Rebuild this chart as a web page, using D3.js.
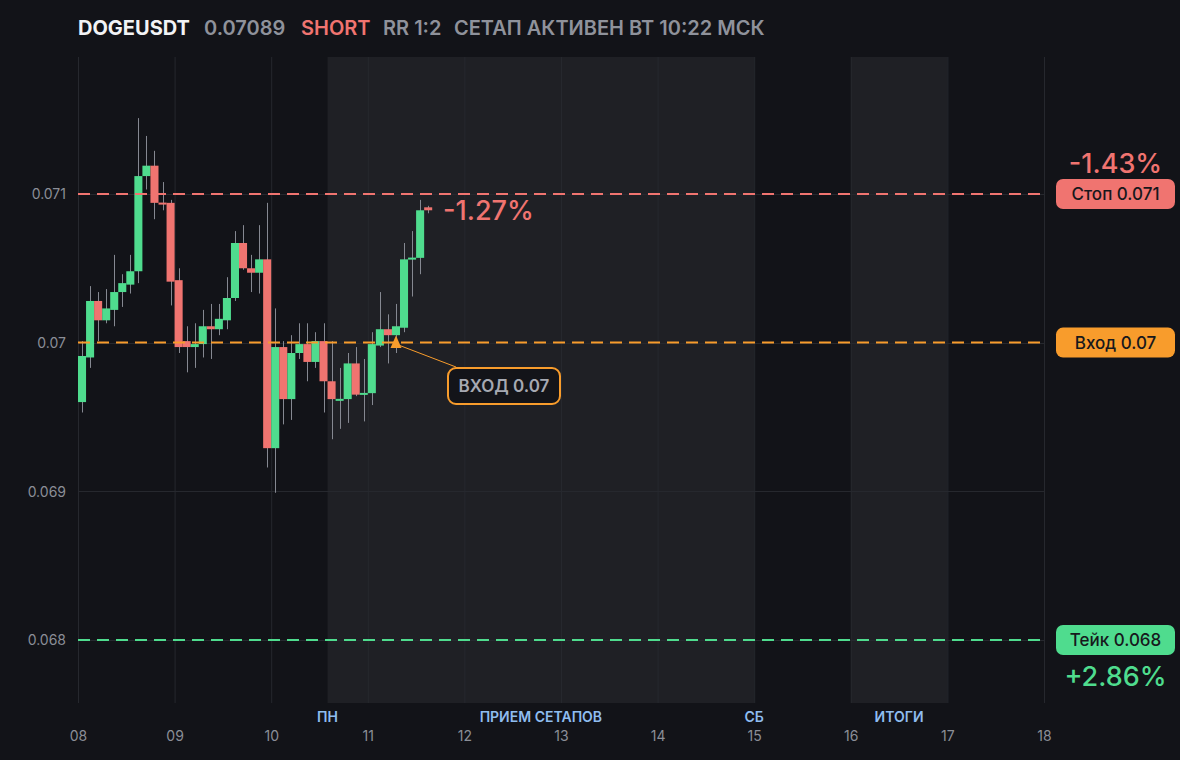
<!DOCTYPE html>
<html>
<head>
<meta charset="utf-8">
<script src="https://cdn.jsdelivr.net/npm/d3@7"></script>
<style>
  html, body { margin: 0; padding: 0; background: #121318; }
  svg { display: block; font-family: Inter, "Noto Sans", sans-serif; }
</style>
</head>
<body>
<svg id="chart" width="1180" height="760"></svg>
<script>
// ---------- DATA ----------
const symbol = "DOGEUSDT";
const lastPrice = "0.07089";
const side = "SHORT";
const rrText = "RR 1:2";
const statusText = "СЕТАП АКТИВЕН ВТ 10:22 МСК";

const firstDay = 8;          // candles start on day 08, 2-hour candles
const candleHours = 2;
const candleOpen  = [0.06960,0.06990,0.07028,0.07015,0.07022,0.07034,0.07039,0.07048,0.07112,0.07119,0.07094,0.07094,0.07042,0.07001,0.06997,0.06999,0.07011,0.07009,0.07015,0.07030,0.07067,0.07050,0.07047,0.07056,0.06929,0.06997,0.06962,0.06993,0.06999,0.06987,0.07001,0.06974,0.06961,0.06962,0.06986,0.06965,0.06966,0.06998,0.07009,0.07005,0.07010,0.07056,0.07057,0.07091];
const candleHigh  = [0.07001,0.07038,0.07034,0.07036,0.07059,0.07046,0.07059,0.07151,0.07139,0.07129,0.07108,0.07096,0.07050,0.07011,0.07013,0.07022,0.07026,0.07026,0.07044,0.07075,0.07079,0.07059,0.07079,0.07094,0.07023,0.07001,0.07005,0.07013,0.07013,0.07007,0.07013,0.07001,0.06983,0.06993,0.06997,0.06989,0.07007,0.07034,0.07019,0.07026,0.07067,0.07075,0.07096,0.07092];
const candleLow   = [0.06953,0.06983,0.07001,0.07013,0.07011,0.07024,0.07033,0.07040,0.07103,0.07083,0.07089,0.07025,0.06993,0.06980,0.06983,0.06990,0.06989,0.07005,0.07009,0.07028,0.07049,0.07034,0.07033,0.06916,0.06899,0.06945,0.06948,0.06989,0.06974,0.06983,0.06953,0.06935,0.06942,0.06946,0.06964,0.06947,0.06958,0.06997,0.06986,0.06993,0.07007,0.07031,0.07046,0.07087];
const candleClose = [0.06991,0.07028,0.07015,0.07023,0.07034,0.07040,0.07048,0.07112,0.07119,0.07094,0.07093,0.07041,0.06997,0.06997,0.06999,0.07011,0.07009,0.07016,0.07030,0.07067,0.07050,0.07047,0.07056,0.06929,0.06997,0.06962,0.06993,0.06999,0.06987,0.07001,0.06974,0.06962,0.06962,0.06986,0.06965,0.06966,0.06999,0.07009,0.07005,0.07011,0.07056,0.07057,0.07089,0.07089];

const dayTicks = [8,9,10,11,12,13,14,15,16,17,18];
const dayTickLabels = ["08","09","10","11","12","13","14","15","16","17","18"];
const priceTicks = [0.068,0.069,0.07,0.071];
const priceTickLabels = ["0.068","0.069","0.07","0.071"];

const bandStarts = [10 + 14/24, 16];
const bandEnds   = [15, 17];
const bandLabels = ["ПН","ПРИЕМ СЕТАПОВ","СБ","ИТОГИ"];
const bandLabelDays = [10 + 14/24, (10 + 14/24 + 15)/2, 15, 16.5];

const levelNames  = ["Стоп 0.071","Вход 0.07","Тейк 0.068"];
const levelPrices = [0.071, 0.07, 0.068];
const stopPct = "-1.43%";
const takePct = "+2.86%";
const currentPct = "-1.27%";
const entryCandleIndex = 39;
const entryLabel = "ВХОД 0.07";

// ---------- STYLE ----------
const C = {
  bg: "#121318", band: "#1f2025", grid: "#26282e",
  up: "#4fdc8e", down: "#f07470", wick: "#858891",
  stop: "#f07470", entry: "#f89c2c", take: "#4fdc8e",
  axis: "#8b8e97", head: "#8f929b", bandText: "#8fbdf0"
};
const levelColors = [C.stop, C.entry, C.take];

const svg = d3.select("#chart");
const plot = {left: 78, right: 1044, top: 57, bottom: 703};

const x = d3.scaleLinear().domain([8, 18]).range([plot.left, plot.right]);
const y = d3.scaleLinear().domain([0.067576, 0.071921]).range([plot.bottom, plot.top]);

svg.append("rect").attr("width",1180).attr("height",760).attr("fill",C.bg);

// bands
svg.append("g").selectAll("rect").data(bandStarts).join("rect")
  .attr("x", d => x(d)).attr("y", plot.top)
  .attr("width", (d,i) => x(bandEnds[i]) - x(d))
  .attr("height", plot.bottom - plot.top)
  .attr("fill", C.band);

// grid
const xAxis = d3.axisBottom(x).tickValues(dayTicks).tickFormat((d,i) => dayTickLabels[i]).tickSize(plot.bottom - plot.top).tickPadding(0);
const gx = svg.append("g").attr("transform", `translate(0,${plot.top})`).call(xAxis);
gx.select(".domain").remove();
gx.selectAll(".tick line").attr("stroke", C.grid).attr("stroke-width",1);
gx.selectAll(".tick text").attr("fill", C.axis).attr("font-size", 14)
  .attr("font-family","Inter").attr("y", null).attr("dy", null)
  .attr("transform", `translate(0,${741 - plot.top})`);

const yAxis = d3.axisLeft(y).tickValues(priceTicks).tickFormat((d,i) => priceTickLabels[i]).tickSize(0).tickPadding(0);
const gy = svg.append("g").attr("transform", `translate(${plot.left - 12},0)`).call(yAxis);
gy.select(".domain").remove();
gy.selectAll(".tick text").attr("fill", C.axis).attr("font-size", 14).attr("font-family","Inter").attr("dy","0.35em");

svg.append("g").selectAll("line").data(priceTicks).join("line")
  .attr("x1", plot.left).attr("x2", plot.right)
  .attr("y1", d => Math.round(y(d)) + 0.5).attr("y2", d => Math.round(y(d)) + 0.5)
  .attr("stroke", C.grid).attr("stroke-width", 1);

// band labels
svg.append("g").selectAll("text").data(bandLabels).join("text")
  .attr("x", (d,i) => x(bandLabelDays[i])).attr("y", 722)
  .attr("text-anchor","middle").attr("fill", C.bandText)
  .attr("font-size", 14).attr("font-weight", 600).text(d => d);

// candles
const candleT = candleOpen.map((d,i) => firstDay + i * candleHours / 24);
const stepW = x(firstDay + candleHours/24) - x(firstDay);
const gc = svg.append("g");
gc.selectAll("line").data(candleOpen).join("line")
  .attr("x1", (d,i) => Math.round(x(candleT[i]) + stepW/2) + 0.5)
  .attr("x2", (d,i) => Math.round(x(candleT[i]) + stepW/2) + 0.5)
  .attr("y1", (d,i) => y(candleHigh[i])).attr("y2", (d,i) => y(candleLow[i]))
  .attr("stroke", C.wick).attr("stroke-width", 1);
gc.selectAll("rect").data(candleOpen).join("rect")
  .attr("x", (d,i) => x(candleT[i]))
  .attr("width", stepW)
  .attr("y", (d,i) => {
    const t = y(Math.max(d, candleClose[i])), b = y(Math.min(d, candleClose[i]));
    return b - t < 2 ? (t + b)/2 - 1 : t;
  })
  .attr("height", (d,i) => Math.max(2, Math.abs(y(d) - y(candleClose[i]))))
  .attr("fill", (d,i) => candleClose[i] >= d ? C.up : C.down);

// level lines
svg.append("g").selectAll("line").data(levelPrices).join("line")
  .attr("x1", plot.left).attr("x2", plot.right)
  .attr("y1", d => y(d)).attr("y2", d => y(d))
  .attr("stroke", (d,i) => levelColors[i]).attr("stroke-width", 2)
  .attr("stroke-dasharray", "12,7");

// level badges
const badges = svg.append("g").selectAll("g").data(levelPrices).join("g")
  .attr("transform", d => `translate(1056,${y(d) - 15})`);
badges.append("rect").attr("width", 119).attr("height", 30).attr("rx", 7)
  .attr("fill", (d,i) => levelColors[i]);
badges.append("text").attr("x", 59.5).attr("y", 15).attr("dy","0.36em")
  .attr("text-anchor","middle").attr("fill","#17181c")
  .attr("font-size", 17).attr("font-weight", 500)
  .text((d,i) => levelNames[i]);

svg.append("text").attr("x", 1115.5).attr("y", 173).attr("text-anchor","middle")
  .attr("fill", C.stop).attr("font-size", 27).attr("font-weight", 500).text(stopPct);
svg.append("text").attr("x", 1115.5).attr("y", 686).attr("text-anchor","middle")
  .attr("fill", C.take).attr("font-size", 27).attr("font-weight", 500).text(takePct);

// current pct
const lastIdx = candleClose.length - 1;
svg.append("text").attr("x", 443).attr("y", y(candleClose[lastIdx]) + 10)
  .attr("fill", C.down).attr("font-size", 27).attr("font-weight", 500).text(currentPct);

// entry marker + callout
const ex = x(candleT[entryCandleIndex]) + stepW/2;
const ey = y(levelPrices[1]);
svg.append("line").attr("x1", ex + 4).attr("y1", ey + 3).attr("x2", 456).attr("y2", 367)
  .attr("stroke", C.entry).attr("stroke-width", 1);
svg.append("path")
  .attr("d", `M${ex},${ey-7} L${ex+5.5},${ey+5.5} L${ex-5.5},${ey+5.5} Z`)
  .attr("fill", C.entry);
svg.append("rect").attr("x", 448).attr("y", 368).attr("width", 112).attr("height", 36).attr("rx", 8)
  .attr("fill", "#131419").attr("stroke", C.entry).attr("stroke-width", 2);
svg.append("text").attr("x", 504).attr("y", 386).attr("dy","0.36em").attr("text-anchor","middle")
  .attr("fill", "#a6a9b2").attr("font-size", 17).attr("font-weight", 600).text(entryLabel);

// header
const headParts = [
  {t: symbol, c: "#f2f3f5", w: 700, x: 78},
  {t: lastPrice, c: C.head, w: 600, x: 204},
  {t: side, c: C.down, w: 600, x: 301},
  {t: rrText, c: C.head, w: 600, x: 383},
  {t: statusText, c: C.head, w: 600, x: 454}
];
svg.append("g").selectAll("text").data(headParts).join("text")
  .attr("x", d => d.x).attr("y", 35).attr("font-size", 20)
  .attr("fill", d => d.c).attr("font-weight", d => d.w).text(d => d.t);
</script>
</body>
</html>
